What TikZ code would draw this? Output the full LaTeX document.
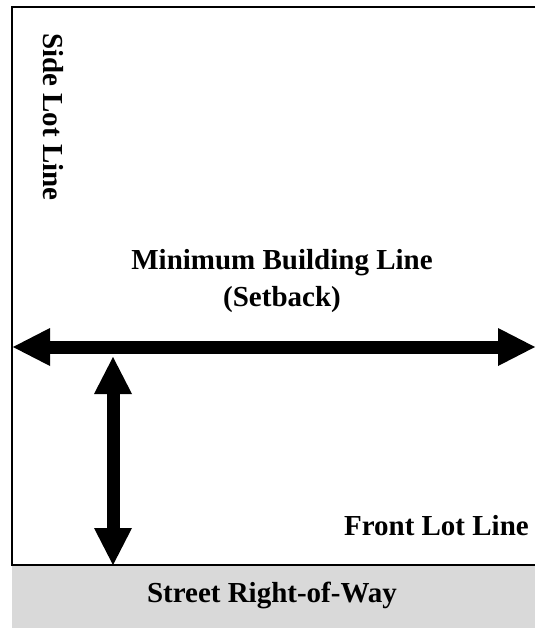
\documentclass[tikz,border=0pt]{standalone}
\usepackage{fontspec}
\setmainfont{Liberation Serif}
\usetikzlibrary{arrows.meta}
\definecolor{streetgray}{RGB}{217,217,217}
\tikzset{
    lbl/.style={font=\fontsize{29}{37}\selectfont\bfseries, inner sep=0pt},
    bigarrow/.style={line width=13pt,
        {Triangle[length=37pt,width=38pt,line width=0pt]}-{Triangle[length=37pt,width=38pt,line width=0pt]}}
}

\begin{document}
\begin{tikzpicture}[x=1pt,y=-1pt]
\useasboundingbox (0,0) rectangle (535,628);

\fill[streetgray] (12,566) rectangle (535,628);
\draw[line width=2.5pt] (535,7) -- (12,7) -- (12,565) -- (535,565);

\coordinate (west) at (13,347);
\coordinate (east) at (535,347);
\coordinate (setback) at (113,357);
\coordinate (front) at (113,565);

\draw[bigarrow] (west) -- (east);
\draw[bigarrow] (setback) -- (front);

\node[lbl,rotate=-90,anchor=base west] (side) at (43,33) {Side Lot Line};
\node[lbl,align=center,anchor=base] (mbl) at (282,306) {Minimum Building Line\\(Setback)};
\node[lbl,anchor=base east] (frontlot) at (529,535) {Front Lot Line};
\node[lbl,anchor=base] (street) at (272,602) {Street Right-of-Way};
\end{tikzpicture}
\end{document}
